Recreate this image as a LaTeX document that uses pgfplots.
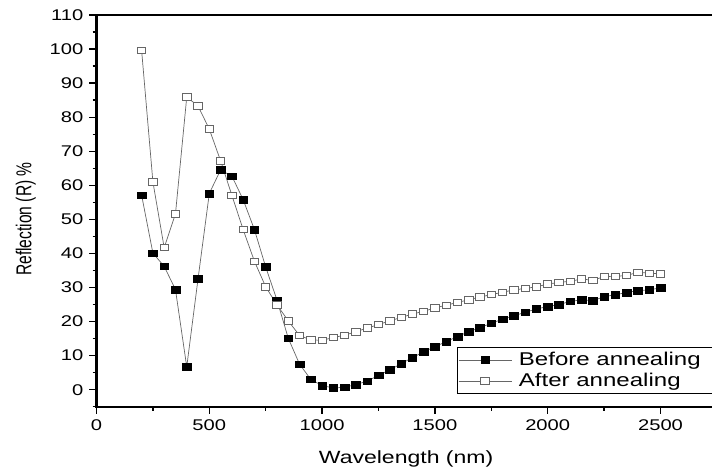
\documentclass[border=0pt]{standalone}
\usepackage{fontspec}
\setmainfont{Liberation Sans}[FakeStretch=1.3]
\newfontfamily\plainfont{Liberation Sans}
\usepackage{pgfplots}
\pgfplotsset{compat=1.18}
\usepackage{pgfplotstable}

\pgfplotstableread{
x y
200 57.1
250 40.1
300 36.2
350 29.4
400 6.7
450 32.5
500 57.6
550 64.5
600 62.7
650 55.8
700 47.0
750 36.0
800 26.3
850 15.1
900 7.5
950 3.0
1000 1.2
1050 0.5
1100 0.7
1150 1.5
1200 2.5
1250 4.2
1300 5.8
1350 7.6
1400 9.4
1450 11.1
1500 12.6
1550 14.1
1600 15.6
1650 17.0
1700 18.2
1750 19.5
1800 20.7
1850 21.7
1900 22.7
1950 23.7
2000 24.4
2050 25.0
2100 25.9
2150 26.4
2200 26.1
2250 27.3
2300 27.9
2350 28.5
2400 29.1
2450 29.3
2500 29.9
}\before

\pgfplotstableread{
x y
200 99.6
250 61.0
300 41.7
350 51.6
400 85.9
450 83.3
500 76.5
550 67.2
600 57.1
650 47.0
700 37.7
750 30.2
800 24.9
850 20.2
900 15.9
950 14.6
1000 14.5
1050 15.3
1100 16.0
1150 17.0
1200 18.1
1250 19.1
1300 20.2
1350 21.2
1400 22.2
1450 23.0
1500 24.0
1550 24.8
1600 25.6
1650 26.4
1700 27.2
1750 27.9
1800 28.6
1850 29.3
1900 29.7
1950 30.2
2000 31.0
2050 31.5
2100 31.8
2150 32.5
2200 32.1
2250 33.2
2300 33.3
2350 33.5
2400 34.5
2450 34.2
2500 34.0
}\after

\begin{document}
\begin{tikzpicture}
\begin{axis}[
  at={(96.5pt,63.3pt)}, anchor=south west,
  scale only axis,
  width=620.4pt, height=391.7pt,
  xmin=0, xmax=2750,
  ymin=-5, ymax=110,
  xtick={0,500,...,2500},
  minor xtick={250,750,...,2250},
  ytick={0,10,...,110},
  minor ytick={-5,5,15,...,105},
  tick pos=left,
  tick align=outside,
  major tick length=7pt,
  minor tick length=4pt,
  every tick/.style={black, line width=1.3pt},
  axis line style={line width=2.2pt, black},
  /pgf/number format/assume math mode=true,
  /pgf/number format/1000 sep={},
  ticklabel style={font=\fontsize{15.5}{18}\selectfont},
  xticklabel style={yshift=-2pt},
  yticklabel style={xshift=-2.6pt},
  xlabel={Wavelength (nm)},
  xlabel style={at={(axis description cs:0.499,-0.1445)}, anchor=base, font=\fontsize{17.7}{21}\selectfont},
  ylabel={\plainfont\scalebox{1}[1.38]{Reflection (R) \%}},
  ylabel style={at={(axis description cs:-0.114,0.479)}, anchor=center, rotate=0, font=\fontsize{15.6}{18}\selectfont},
  legend style={at={(axis description cs:0.5806,0.1524)}, anchor=north west,
    draw=black, line width=1pt, font=\fontsize{18.5}{22}\selectfont,
    inner xsep=1pt, inner ysep=3pt, row sep=2pt,
    /tikz/every odd column/.append style={column sep=5pt},
    cells={anchor=west}},
  legend image code/.code={
    \draw[mark repeat=2,mark phase=2,#1] plot coordinates {(0pt,0pt) (26.5pt,0pt) (53pt,0pt)};
  },
]
\addplot[black!60, line width=0.7pt, mark=square*, mark size=3.3pt,
  mark options={solid, fill=black, draw=black, line width=0.5pt, xscale=1.3}]
  table[x=x,y=y] {\before};
\addlegendentry{\makebox[200pt][l]{Before annealing}}
\addplot[black!60, line width=0.7pt, mark=square*, mark size=3.2pt,
  mark options={solid, fill=white, draw=black!60, line width=0.8pt, xscale=1.3}]
  table[x=x,y=y] {\after};
\addlegendentry{\makebox[200pt][l]{After annealing}}
\end{axis}
\pgfresetboundingbox
\path[use as bounding box] (0,0) rectangle (712pt,470pt);
\end{tikzpicture}
\end{document}
